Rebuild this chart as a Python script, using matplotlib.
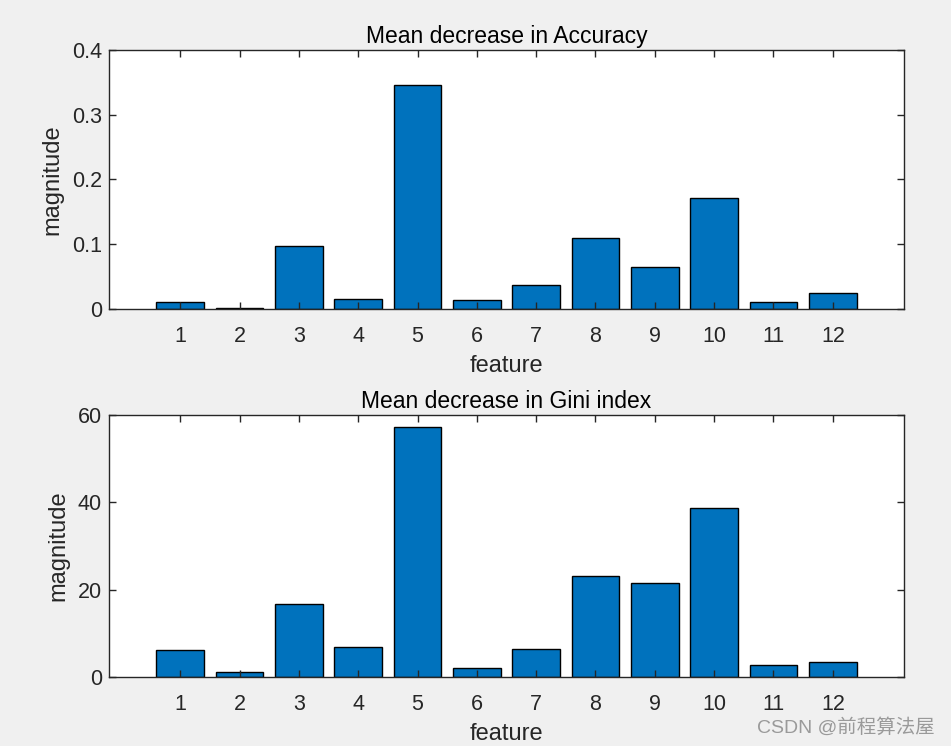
import numpy as np
import matplotlib.pyplot as plt

features = np.arange(1, 13)
acc_vals = [0.011, 0.002, 0.098, 0.016, 0.346, 0.014, 0.037, 0.109, 0.065, 0.171, 0.011, 0.025]
gini_vals = [6.2, 1.1, 16.8, 6.9, 57.2, 2.1, 6.4, 23.2, 21.5, 38.8, 2.8, 3.5]
titles = ["Mean decrease in Accuracy", "Mean decrease in Gini index"]

plt.rcParams['font.family'] = ['Liberation Sans', 'Noto Sans CJK SC', 'DejaVu Sans']

bg = '#f0f0f0'
axcol = '#262626'

fig = plt.figure(figsize=(9.51, 7.46), dpi=100, facecolor=bg)
ax1 = fig.add_axes([0.1146, 0.5858, 0.836, 0.3472])
ax2 = fig.add_axes([0.1146, 0.0925, 0.836, 0.3512])

for ax, vals, title, ylim, yt in [
        (ax1, acc_vals, titles[0], (0, 0.4), [0, 0.1, 0.2, 0.3, 0.4]),
        (ax2, gini_vals, titles[1], (0, 60), [0, 20, 40, 60])]:
    ax.bar(features, vals, width=0.8, color='#0072BD', edgecolor='black', linewidth=1.0)
    ax.set_xlim(-0.2, 13.2)
    ax.set_ylim(*ylim)
    ax.set_xticks(features)
    ax.set_yticks(yt)
    ax.set_yticklabels([f"{v:g}" for v in yt])
    ax.tick_params(direction='in', top=True, right=True, length=5, width=1,
                   colors=axcol, labelsize=15.5, pad=12)
    ax.tick_params(axis='y', pad=5)
    for s in ax.spines.values():
        s.set_color(axcol)
        s.set_linewidth(1)
    ax.set_title(title, fontsize=16.5, color='black', pad=5)
    ax.set_xlabel("feature", fontsize=17, color=axcol, labelpad=6)
    ax.set_ylabel("magnitude", fontsize=17, color=axcol, labelpad=6)

fig.text(0.983, 0.012, "CSDN @前程算法屋", ha='right', va='bottom', fontsize=14, color='#9a9a9a')

fig.savefig("out.png", dpi=100, facecolor=bg)
